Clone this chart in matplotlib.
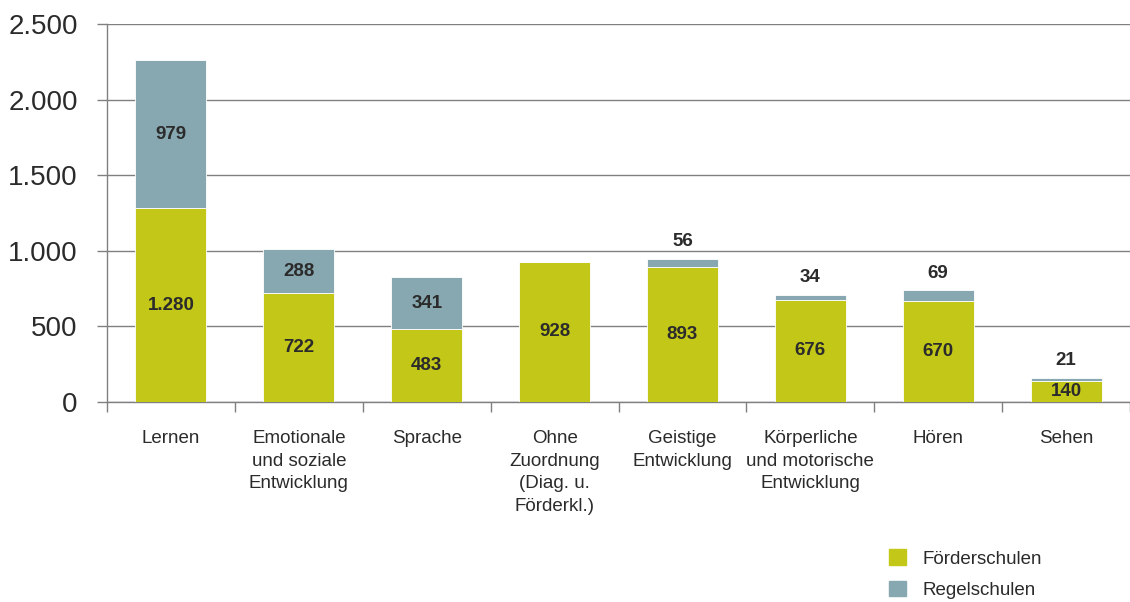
import matplotlib.pyplot as plt
import numpy as np
from matplotlib.patches import Patch

plt.rcParams['font.family'] = ['Liberation Sans', 'DejaVu Sans']

categories = ["Lernen", "Emotionale\nund soziale\nEntwicklung", "Sprache",
              "Ohne\nZuordnung\n(Diag. u.\nFörderkl.)", "Geistige\nEntwicklung",
              "Körperliche\nund motorische\nEntwicklung", "Hören", "Sehen"]
foerderschulen = [1280, 722, 483, 928, 893, 676, 670, 140]
regelschulen = [979, 288, 341, 0, 56, 34, 69, 21]
yticks = [0, 500, 1000, 1500, 2000, 2500]
ytick_labels = ["0", "500", "1.000", "1.500", "2.000", "2.500"]


def fmt(v):
    return f"{v:,}".replace(",", ".")


green = "#c3c718"
blue = "#87a8b0"
text_col = "#2b2b2b"
grid_col = "#808080"

fig = plt.figure(figsize=(11.3, 6.02), dpi=100)
ax = fig.add_axes([0.0947, 0.3322, 0.9053, 0.628])

x = np.arange(len(categories))
w = 0.555
ax.bar(x, foerderschulen, w, color=green, edgecolor="white", linewidth=0.6, zorder=3)
ax.bar(x, regelschulen, w, bottom=foerderschulen, color=blue, edgecolor="white",
       linewidth=0.6, zorder=3)

# value labels: inside the segment, small Regelschulen values above the bar
for i, (f, r) in enumerate(zip(foerderschulen, regelschulen)):
    ax.text(i, f / 2, fmt(f), ha="center", va="center", fontsize=13.5,
            fontweight="bold", color=text_col, zorder=4)
    if r == 0:
        continue
    if r >= 200:
        ax.text(i, f + r / 2, fmt(r), ha="center", va="center", fontsize=13.5,
                fontweight="bold", color=text_col, zorder=4)
    else:
        ax.annotate(fmt(r), (i, f + r), xytext=(0, 6), textcoords="offset points",
                    ha="center", va="bottom", fontsize=13.5, fontweight="bold",
                    color=text_col)

ax.set_xlim(-0.5, 7.5)
ax.set_ylim(0, 2500)
ax.set_yticks(yticks)
ax.set_yticklabels(ytick_labels, fontsize=20, color=text_col)
ax.yaxis.grid(True, color=grid_col, linewidth=1)
ax.set_axisbelow(True)
ax.tick_params(axis="y", length=7, width=1, color=grid_col, pad=14)

ax.set_xticks(np.arange(-0.5, 8, 1))
ax.set_xticklabels([])
ax.tick_params(axis="x", length=7, width=1, color=grid_col)
for i, c in enumerate(categories):
    ax.annotate(c, (i, 0), xytext=(0, -20), textcoords="offset points",
                ha="center", va="top", fontsize=13.5, color=text_col,
                linespacing=1.45, annotation_clip=False)

for s in ["top", "right"]:
    ax.spines[s].set_visible(False)
for s in ["left", "bottom"]:
    ax.spines[s].set_color(grid_col)
    ax.spines[s].set_linewidth(1)

handles = [Patch(color=green, label="Förderschulen"),
           Patch(color=blue, label="Regelschulen")]
fig.legend(handles=handles, loc="upper left", bbox_to_anchor=(0.78, 0.1),
           frameon=False, fontsize=13.5, handlelength=0.9, handleheight=0.9,
           handletextpad=0.9, labelspacing=0.7, labelcolor=text_col,
           borderaxespad=0)

fig.savefig("out.png", dpi=100)
